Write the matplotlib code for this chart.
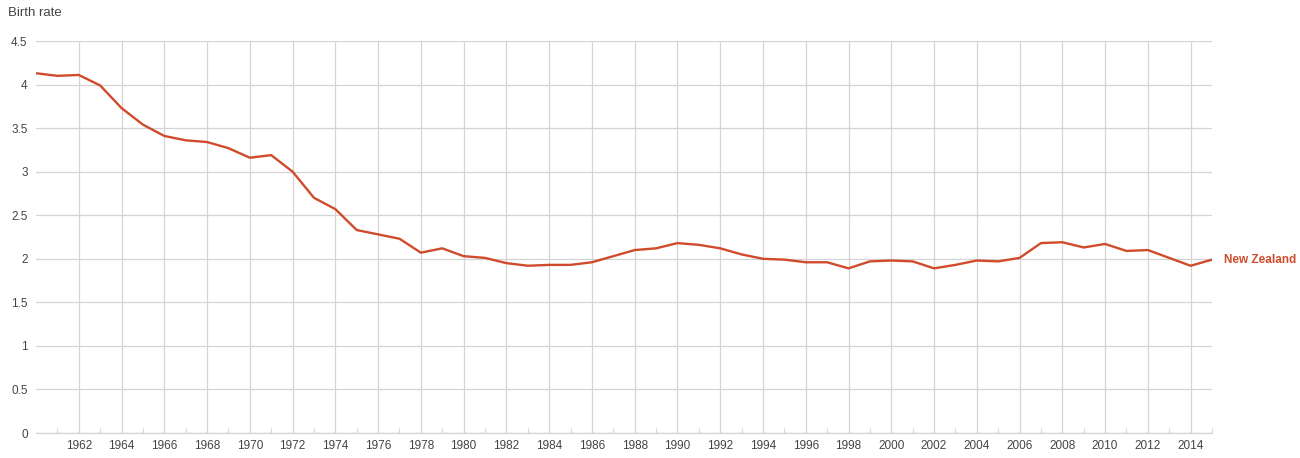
import matplotlib
matplotlib.use('Agg')
import matplotlib.pyplot as plt

# New Zealand birth rate (births per woman)
years = list(range(1960, 2016))
birth_rate = [4.13, 4.10, 4.11, 3.99, 3.73, 3.54, 3.41, 3.36, 3.34, 3.27,
              3.16, 3.19, 3.00, 2.70, 2.57, 2.33, 2.28, 2.23, 2.07, 2.12,
              2.03, 2.01, 1.95, 1.92, 1.93, 1.93, 1.96, 2.03, 2.10, 2.12,
              2.18, 2.16, 2.12, 2.05, 2.00, 1.99, 1.96, 1.96, 1.89, 1.97,
              1.98, 1.97, 1.89, 1.93, 1.98, 1.97, 2.01, 2.18, 2.19, 2.13,
              2.17, 2.09, 2.10, 2.01, 1.92, 1.99]
major_years = list(range(1962, 2016, 2))
minor_years = list(range(1961, 2016, 2))
y_ticks = [0, 0.5, 1, 1.5, 2, 2.5, 3, 3.5, 4, 4.5]
y_labels = ['0', '0.5', '1', '1.5', '2', '2.5', '3', '3.5', '4', '4.5']
series_name = 'New Zealand'

line_color = '#cf4b2b'
grid_color = '#d4d4d4'
text_color = '#444444'

plt.rcParams['font.family'] = ['Liberation Sans', 'DejaVu Sans']

fig = plt.figure(figsize=(13, 4.58), dpi=100)
ax = fig.add_axes([36 / 1300, 1 - 433 / 458, (1212 - 36) / 1300, (433 - 41) / 458])

ax.plot(years, birth_rate, color=line_color, linewidth=1.7, zorder=3)
ax.set_xlim(1960, 2015)
ax.set_ylim(0, 4.5)

ax.set_yticks(y_ticks)
ax.set_yticklabels(y_labels)
ax.set_xticks(major_years)
ax.set_xticklabels([str(y) for y in major_years])
ax.set_xticks(minor_years, minor=True)

ax.grid(True, axis='y', color=grid_color, linewidth=0.9)
ax.grid(True, axis='x', which='major', color=grid_color, linewidth=0.9)
ax.tick_params(axis='both', which='both', length=0, labelsize=8.5,
               labelcolor=text_color)
ax.tick_params(axis='y', pad=6)
ax.tick_params(axis='x', pad=5)
ax.tick_params(axis='x', which='minor', direction='in', length=3.5,
               color='#d8d8d8', width=0.8)
for side in ['top', 'right', 'left']:
    ax.spines[side].set_visible(False)
ax.spines['bottom'].set_color(grid_color)
ax.spines['bottom'].set_linewidth(0.9)

fig.text(8 / 1300, 1 - 13 / 458, 'Birth rate', fontsize=9.5,
         color=text_color, ha='left', va='center')
ax.annotate(series_name, xy=(years[-1], birth_rate[-1]), xytext=(8.5, 0),
            textcoords='offset points', color=line_color, fontsize=8.5,
            fontweight='bold', ha='left', va='center', annotation_clip=False)

fig.savefig('out.png', dpi=100)
